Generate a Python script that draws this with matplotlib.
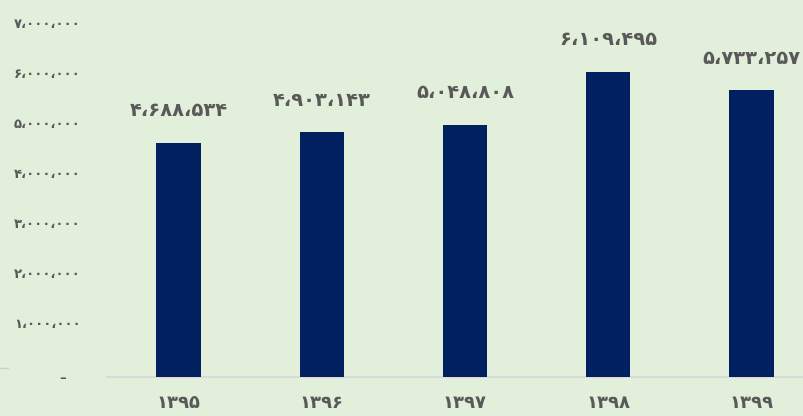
import matplotlib
matplotlib.use('Agg')
from matplotlib import pyplot as plt
from matplotlib.lines import Line2D
from matplotlib.transforms import ScaledTranslation

years = ['1395', '1396', '1397', '1398', '1399']
values = [4688534, 4903143, 5048808, 6109495, 5733257]
y_ticks = [0, 1000000, 2000000, 3000000, 4000000, 5000000, 6000000, 7000000]

BG = '#E2EFDA'
BAR = '#002060'
TXT = '#595959'

fa_digits = str.maketrans('0123456789,', '۰۱۲۳۴۵۶۷۸۹،')


def to_fa(n):
    return '{:,}'.format(n).translate(fa_digits)


def tick_label(n):
    if n == 0:
        return '–   '
    return to_fa(n)


plt.rcParams['font.family'] = ['DejaVu Sans']

fig = plt.figure(figsize=(8.04, 4.16), dpi=100)
fig.patch.set_facecolor(BG)

# axes runs past the right edge of the figure
ax = fig.add_axes([107 / 804, 39 / 416, 716 / 804, 350 / 416])
ax.set_facecolor(BG)

xs = list(range(len(years)))
bars = ax.bar(xs, values, width=0.31, color=BAR, zorder=3)

for x, v in zip(xs, values):
    ax.annotate(to_fa(v), (x, v), xytext=(0, 16), textcoords='offset points',
                ha='center', va='bottom', fontsize=14, fontweight='bold', color=TXT)

ax.set_xlim(-0.5, len(years) - 0.5)
ax.set_ylim(0, 7000000)
ax.set_xticks(xs)
ax.set_xticklabels([y.translate(fa_digits) for y in years], fontsize=13,
                   fontweight='bold', color=TXT)
ax.set_yticks(y_ticks)
ax.set_yticklabels([tick_label(t) for t in y_ticks], fontsize=9.5,
                   fontweight='bold', color=TXT)
ax.tick_params(axis='both', length=0)
ax.tick_params(axis='x', pad=12)
ax.tick_params(axis='y', pad=19)
shift = ScaledTranslation(0, 3 / 72, fig.dpi_scale_trans)
for lab, t in zip(ax.get_yticklabels(), y_ticks):
    if t:
        lab.set_transform(lab.get_transform() + shift)

for s in ['top', 'right', 'left']:
    ax.spines[s].set_visible(False)
ax.spines['bottom'].set_color('#D9D9D9')
ax.spines['bottom'].set_linewidth(1.5)

fig.add_artist(Line2D([0, 8 / 804], [48 / 416, 48 / 416], color='#D0D0D0', lw=1))

plt.savefig('out.png', dpi=100, facecolor=BG)
